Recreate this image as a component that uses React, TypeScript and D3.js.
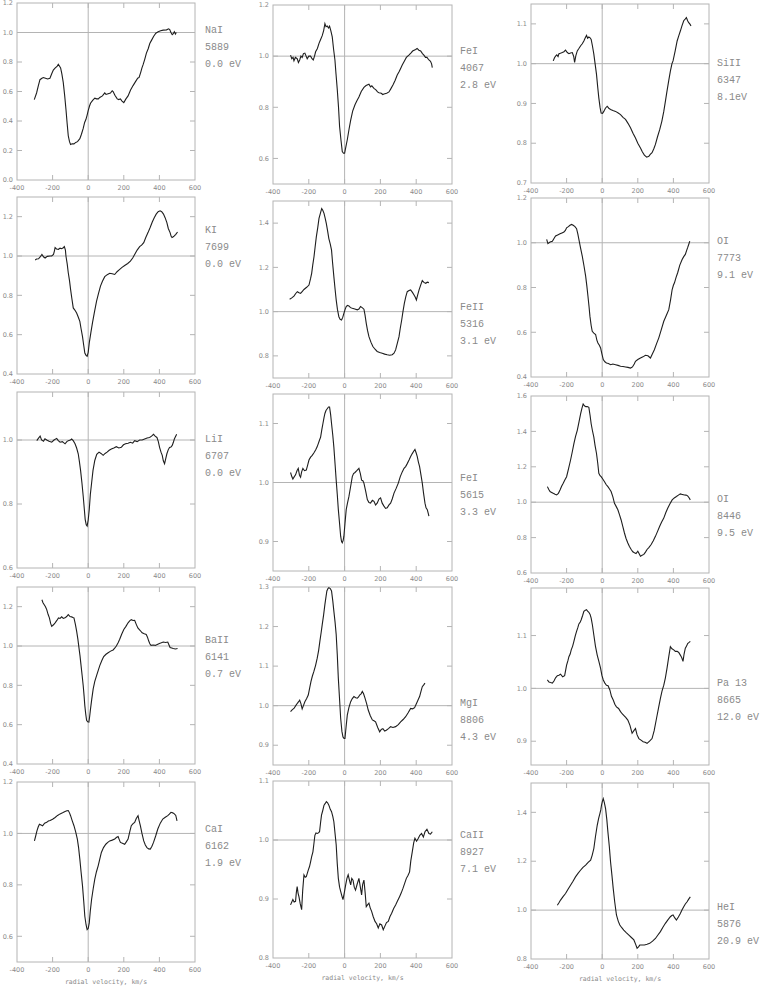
import React from "react";
import * as d3 from "d3";

type P = [number, number][];

const X_DOMAIN: [number, number] = [-400, 600];
const X_TICKS = [-400, -200, 0, 200, 400, 600];

const naI_5889: P = [[-303,0.545],[-290,0.59],[-280,0.64],[-271,0.68],[-260,0.69],[-252,0.695],[-240,0.69],[-228,0.685],[-215,0.69],[-205,0.72],[-196,0.745],[-185,0.76],[-175,0.77],[-168,0.785],[-160,0.77],[-155,0.76],[-148,0.72],[-140,0.66],[-132,0.57],[-125,0.48],[-118,0.38],[-112,0.30],[-105,0.26],[-99,0.24],[-90,0.245],[-80,0.245],[-70,0.255],[-60,0.26],[-47,0.28],[-38,0.31],[-28,0.35],[-20,0.39],[-13,0.41],[-6,0.44],[0,0.47],[7,0.50],[13,0.52],[25,0.54],[37,0.555],[47,0.55],[57,0.55],[65,0.56],[80,0.57],[93,0.59],[100,0.58],[112,0.585],[125,0.59],[135,0.605],[140,0.60],[150,0.575],[163,0.55],[172,0.545],[181,0.55],[190,0.535],[200,0.525],[212,0.55],[224,0.57],[238,0.61],[252,0.64],[265,0.665],[278,0.69],[286,0.695],[295,0.73],[302,0.76],[308,0.78],[318,0.82],[327,0.86],[337,0.89],[346,0.925],[357,0.95],[368,0.975],[380,0.995],[393,1.005],[407,1.012],[421,1.016],[440,1.018],[452,1.025],[458,1.02],[465,1.0],[472,0.985],[477,0.99],[484,1.005],[490,0.99],[495,1.0]];

const feI_4067: P = [[-302,1.004],[-295,0.99],[-288,0.995],[-283,0.982],[-275,0.995],[-265,0.99],[-258,0.975],[-251,0.985],[-244,1.0],[-237,0.995],[-230,1.01],[-222,1.012],[-215,1.0],[-209,0.99],[-200,1.0],[-190,1.0],[-182,0.99],[-175,0.985],[-168,1.0],[-162,1.017],[-152,1.03],[-143,1.05],[-134,1.065],[-125,1.08],[-117,1.1],[-110,1.127],[-104,1.115],[-97,1.118],[-90,1.11],[-84,1.117],[-77,1.1],[-69,1.075],[-62,1.03],[-54,0.985],[-48,0.93],[-41,0.87],[-34,0.8],[-28,0.725],[-20,0.67],[-13,0.627],[-6,0.62],[0,0.62],[7,0.645],[15,0.673],[25,0.715],[34,0.75],[45,0.785],[58,0.81],[68,0.825],[80,0.84],[93,0.862],[108,0.878],[120,0.885],[136,0.89],[145,0.88],[152,0.884],[164,0.874],[175,0.868],[184,0.86],[192,0.857],[205,0.855],[213,0.85],[220,0.852],[235,0.855],[248,0.86],[258,0.872],[270,0.887],[282,0.905],[294,0.926],[305,0.94],[315,0.955],[322,0.965],[335,0.982],[345,0.995],[359,1.004],[370,1.012],[380,1.02],[397,1.026],[405,1.03],[415,1.023],[425,1.02],[435,1.01],[443,1.004],[452,0.995],[460,0.995],[471,0.985],[480,0.98],[486,0.97],[490,0.955]];

const siII_6347: P = [[-275,1.007],[-268,1.015],[-262,1.019],[-255,1.022],[-248,1.018],[-243,1.025],[-235,1.026],[-224,1.028],[-215,1.03],[-206,1.034],[-196,1.028],[-187,1.025],[-178,1.027],[-168,1.028],[-160,1.018],[-155,1.003],[-148,1.02],[-140,1.032],[-131,1.038],[-121,1.045],[-112,1.05],[-103,1.057],[-95,1.065],[-88,1.071],[-82,1.064],[-75,1.067],[-68,1.065],[-62,1.061],[-55,1.045],[-47,1.024],[-40,1.0],[-32,0.973],[-25,0.94],[-19,0.914],[-12,0.89],[-6,0.876],[2,0.875],[9,0.88],[18,0.888],[28,0.893],[37,0.888],[47,0.885],[60,0.882],[75,0.88],[90,0.876],[103,0.872],[117,0.865],[131,0.86],[145,0.85],[159,0.839],[173,0.825],[187,0.813],[200,0.8],[215,0.788],[226,0.778],[237,0.77],[250,0.765],[262,0.767],[270,0.772],[280,0.776],[290,0.786],[299,0.797],[310,0.815],[323,0.834],[335,0.855],[346,0.88],[355,0.905],[364,0.931],[374,0.958],[383,0.981],[392,1.0],[398,1.007],[410,1.032],[421,1.057],[430,1.07],[439,1.082],[448,1.095],[458,1.108],[466,1.112],[473,1.116],[480,1.108],[486,1.103],[492,1.1],[499,1.095]];

const kI_7699: P = [[-298,0.98],[-290,0.985],[-279,0.986],[-270,0.995],[-260,1.008],[-250,0.995],[-242,0.99],[-230,0.998],[-214,1.0],[-205,1.0],[-195,1.008],[-190,1.025],[-186,1.043],[-178,1.036],[-167,1.034],[-158,1.04],[-149,1.037],[-140,1.042],[-134,1.048],[-128,1.03],[-125,1.0],[-118,0.96],[-112,0.915],[-105,0.875],[-99,0.83],[-92,0.785],[-84,0.736],[-75,0.725],[-65,0.71],[-56,0.69],[-47,0.668],[-40,0.63],[-32,0.59],[-25,0.545],[-19,0.507],[-12,0.495],[-6,0.49],[0,0.51],[6,0.558],[15,0.61],[24,0.66],[35,0.715],[47,0.77],[58,0.81],[69,0.847],[80,0.872],[93,0.895],[107,0.905],[121,0.912],[135,0.91],[149,0.906],[162,0.92],[177,0.932],[190,0.942],[205,0.952],[222,0.962],[237,0.974],[250,0.99],[261,1.008],[275,1.03],[289,1.048],[300,1.055],[312,1.068],[324,1.095],[336,1.119],[348,1.145],[360,1.173],[371,1.195],[382,1.213],[393,1.225],[404,1.23],[413,1.225],[423,1.213],[432,1.195],[442,1.17],[450,1.14],[460,1.119],[466,1.1],[471,1.094],[478,1.098],[484,1.102],[492,1.11],[502,1.122]];

const feII_5316: P = [[-307,1.056],[-295,1.062],[-283,1.07],[-273,1.082],[-264,1.09],[-255,1.085],[-246,1.083],[-236,1.092],[-227,1.1],[-212,1.11],[-199,1.12],[-190,1.15],[-184,1.173],[-178,1.21],[-171,1.248],[-165,1.29],[-158,1.338],[-150,1.38],[-143,1.421],[-135,1.445],[-128,1.466],[-122,1.458],[-115,1.444],[-108,1.42],[-102,1.398],[-95,1.365],[-88,1.33],[-80,1.305],[-73,1.278],[-67,1.22],[-60,1.158],[-53,1.1],[-47,1.053],[-40,1.01],[-32,0.977],[-25,0.965],[-17,0.962],[-10,0.975],[-4,0.992],[3,1.01],[9,1.023],[16,1.028],[24,1.026],[33,1.018],[43,1.015],[57,1.012],[71,1.008],[80,1.012],[89,1.023],[98,1.018],[108,1.011],[114,0.985],[121,0.947],[128,0.915],[136,0.887],[147,0.862],[158,0.842],[170,0.83],[182,0.82],[196,0.815],[210,0.812],[224,0.808],[238,0.805],[252,0.803],[266,0.805],[276,0.812],[285,0.827],[294,0.855],[304,0.887],[311,0.925],[319,0.962],[326,1.0],[334,1.038],[342,1.068],[350,1.09],[360,1.095],[369,1.098],[379,1.087],[388,1.075],[395,1.065],[401,1.053],[408,1.075],[416,1.098],[425,1.12],[434,1.14],[443,1.132],[453,1.128],[462,1.133],[471,1.131]];

const oI_7773: P = [[-312,1.015],[-305,0.996],[-293,1.003],[-280,1.007],[-270,1.02],[-262,1.03],[-250,1.035],[-237,1.04],[-226,1.044],[-215,1.048],[-207,1.055],[-200,1.067],[-190,1.072],[-181,1.078],[-172,1.082],[-163,1.078],[-153,1.072],[-144,1.063],[-137,1.04],[-131,1.015],[-122,0.978],[-112,0.94],[-102,0.895],[-93,0.851],[-86,0.805],[-80,0.761],[-74,0.715],[-69,0.672],[-62,0.63],[-56,0.604],[-47,0.596],[-37,0.59],[-30,0.565],[-24,0.552],[-16,0.542],[-9,0.53],[-2,0.505],[6,0.478],[15,0.468],[24,0.463],[35,0.46],[47,0.455],[60,0.458],[75,0.455],[89,0.452],[103,0.448],[117,0.447],[131,0.445],[145,0.443],[159,0.44],[170,0.445],[180,0.458],[187,0.47],[200,0.478],[215,0.485],[229,0.49],[243,0.497],[257,0.495],[271,0.485],[283,0.505],[293,0.522],[305,0.548],[318,0.575],[332,0.612],[346,0.649],[360,0.675],[374,0.701],[384,0.745],[393,0.791],[400,0.81],[406,0.821],[415,0.845],[424,0.866],[436,0.9],[449,0.925],[458,0.938],[467,0.948],[474,0.965],[480,0.978],[486,0.992],[492,1.007]];

const liI_6707: P = [[-289,0.998],[-280,1.005],[-270,1.012],[-262,1.0],[-251,0.996],[-243,1.004],[-233,1.0],[-220,0.996],[-205,0.993],[-192,1.0],[-177,1.005],[-168,0.998],[-158,0.993],[-145,0.995],[-130,0.988],[-120,0.995],[-112,0.998],[-100,1.0],[-93,1.003],[-84,0.998],[-74,0.988],[-65,0.975],[-56,0.957],[-50,0.935],[-43,0.906],[-35,0.865],[-28,0.824],[-22,0.785],[-17,0.752],[-11,0.735],[-6,0.731],[0,0.75],[6,0.783],[12,0.83],[19,0.865],[27,0.905],[37,0.936],[48,0.955],[61,0.962],[72,0.958],[84,0.952],[95,0.958],[106,0.962],[118,0.968],[130,0.972],[144,0.975],[158,0.979],[172,0.975],[186,0.977],[198,0.985],[210,0.988],[224,0.99],[237,0.993],[250,0.99],[261,0.998],[275,0.995],[289,1.0],[303,1.0],[317,1.003],[331,1.006],[345,1.008],[356,1.012],[367,1.018],[376,1.012],[386,1.008],[394,0.995],[401,0.977],[409,0.962],[416,0.952],[422,0.935],[429,0.926],[435,0.94],[442,0.957],[450,0.97],[457,0.977],[465,0.978],[472,0.983],[478,0.992],[484,1.003],[490,1.01],[497,1.018]];

const feI_5615: P = [[-302,1.017],[-295,1.01],[-289,1.006],[-281,1.01],[-274,1.013],[-266,1.02],[-259,1.024],[-252,1.012],[-246,1.009],[-240,1.018],[-233,1.024],[-224,1.02],[-214,1.021],[-206,1.03],[-199,1.038],[-190,1.043],[-181,1.046],[-172,1.05],[-162,1.055],[-154,1.06],[-147,1.066],[-140,1.072],[-134,1.077],[-127,1.09],[-121,1.1],[-115,1.11],[-110,1.117],[-104,1.122],[-97,1.125],[-90,1.128],[-84,1.128],[-78,1.115],[-73,1.1],[-66,1.08],[-60,1.06],[-53,1.03],[-47,1.004],[-41,0.98],[-35,0.954],[-28,0.93],[-22,0.909],[-17,0.9],[-13,0.898],[-8,0.902],[-4,0.909],[2,0.93],[9,0.954],[16,0.965],[24,0.976],[33,0.992],[43,1.01],[50,1.015],[58,1.017],[68,1.02],[80,1.024],[88,1.015],[95,1.004],[102,1.003],[108,0.999],[118,0.985],[127,0.971],[136,0.966],[145,0.965],[155,0.97],[164,0.968],[173,0.962],[182,0.965],[192,0.972],[201,0.974],[210,0.965],[220,0.96],[229,0.956],[238,0.957],[248,0.962],[257,0.965],[266,0.972],[276,0.982],[288,0.99],[300,0.999],[311,1.01],[322,1.018],[332,1.024],[341,1.027],[350,1.032],[360,1.038],[369,1.044],[378,1.049],[386,1.053],[393,1.056],[400,1.05],[406,1.044],[412,1.035],[419,1.027],[427,1.012],[434,0.999],[441,0.982],[449,0.965],[455,0.957],[462,0.954],[467,0.948],[471,0.943]];

const oI_8446: P = [[-308,1.088],[-300,1.072],[-293,1.06],[-284,1.055],[-275,1.05],[-265,1.045],[-256,1.041],[-246,1.05],[-237,1.069],[-228,1.09],[-219,1.107],[-210,1.125],[-200,1.144],[-189,1.19],[-178,1.237],[-168,1.285],[-159,1.331],[-150,1.37],[-140,1.406],[-130,1.455],[-121,1.5],[-114,1.53],[-107,1.555],[-100,1.545],[-92,1.54],[-84,1.54],[-75,1.536],[-68,1.49],[-62,1.443],[-55,1.405],[-47,1.368],[-40,1.32],[-32,1.275],[-25,1.22],[-19,1.163],[-12,1.15],[-6,1.144],[4,1.13],[13,1.116],[22,1.1],[32,1.088],[41,1.075],[50,1.06],[60,1.03],[69,0.994],[79,0.975],[88,0.957],[97,0.93],[106,0.901],[116,0.862],[125,0.826],[134,0.795],[144,0.77],[153,0.75],[163,0.733],[172,0.72],[181,0.714],[190,0.71],[200,0.723],[207,0.71],[215,0.695],[224,0.7],[234,0.705],[243,0.718],[252,0.733],[263,0.745],[275,0.761],[287,0.782],[299,0.807],[311,0.835],[323,0.864],[334,0.888],[346,0.91],[357,0.94],[368,0.966],[380,0.99],[393,1.013],[405,1.024],[417,1.032],[428,1.04],[439,1.047],[450,1.044],[462,1.041],[471,1.04],[480,1.036],[488,1.025],[495,1.013]];

const baII_6141: P = [[-260,1.235],[-254,1.22],[-247,1.21],[-240,1.2],[-233,1.185],[-225,1.16],[-218,1.143],[-211,1.115],[-205,1.1],[-195,1.108],[-186,1.118],[-176,1.13],[-167,1.143],[-158,1.14],[-149,1.148],[-140,1.14],[-130,1.143],[-121,1.15],[-112,1.16],[-102,1.15],[-93,1.148],[-86,1.145],[-80,1.143],[-72,1.11],[-65,1.076],[-58,1.035],[-52,0.992],[-46,0.95],[-41,0.908],[-34,0.85],[-28,0.798],[-23,0.745],[-19,0.697],[-14,0.655],[-9,0.622],[-3,0.615],[4,0.613],[8,0.64],[13,0.68],[20,0.73],[28,0.782],[37,0.82],[47,0.849],[56,0.875],[65,0.9],[76,0.925],[87,0.946],[100,0.958],[112,0.966],[126,0.974],[140,0.98],[150,0.99],[158,1.0],[168,1.017],[177,1.034],[188,1.06],[200,1.084],[212,1.1],[224,1.118],[233,1.128],[242,1.134],[252,1.13],[261,1.131],[270,1.11],[279,1.092],[291,1.08],[303,1.067],[315,1.062],[326,1.059],[333,1.045],[340,1.025],[347,1.01],[353,1.003],[365,1.005],[377,1.003],[388,1.008],[400,1.013],[411,1.016],[422,1.02],[435,1.018],[447,1.02],[454,1.005],[460,0.992],[469,0.99],[478,0.987],[490,0.985],[502,0.987]];

const mgI_8806: P = [[-302,0.985],[-292,0.99],[-283,0.993],[-273,1.0],[-264,1.006],[-257,1.01],[-251,1.014],[-244,1.005],[-237,0.992],[-230,1.0],[-222,1.01],[-212,1.018],[-203,1.027],[-195,1.045],[-188,1.061],[-180,1.075],[-172,1.086],[-162,1.102],[-153,1.12],[-145,1.14],[-138,1.163],[-131,1.185],[-125,1.205],[-117,1.23],[-110,1.256],[-104,1.275],[-99,1.29],[-93,1.296],[-88,1.298],[-80,1.296],[-73,1.29],[-66,1.265],[-60,1.239],[-53,1.21],[-47,1.18],[-41,1.13],[-35,1.069],[-28,1.015],[-22,0.968],[-15,0.935],[-9,0.921],[-3,0.917],[2,0.917],[8,0.945],[15,0.976],[24,0.995],[34,1.01],[43,1.018],[52,1.023],[62,1.02],[71,1.019],[78,1.022],[84,1.027],[92,1.03],[99,1.036],[106,1.03],[114,1.019],[123,1.005],[132,0.989],[143,0.975],[155,0.964],[164,0.962],[173,0.959],[185,0.945],[196,0.934],[205,0.94],[214,0.942],[224,0.936],[233,0.938],[245,0.942],[257,0.947],[270,0.945],[285,0.947],[300,0.952],[313,0.959],[327,0.965],[341,0.972],[355,0.982],[369,0.993],[380,0.992],[391,0.995],[399,1.003],[406,1.01],[412,1.016],[419,1.023],[426,1.035],[434,1.048],[441,1.052],[449,1.057]];

const pa13_8665: P = [[-308,1.016],[-299,1.012],[-290,1.011],[-280,1.01],[-271,1.014],[-262,1.02],[-252,1.024],[-243,1.025],[-234,1.027],[-222,1.022],[-211,1.024],[-205,1.035],[-200,1.044],[-193,1.052],[-187,1.06],[-180,1.065],[-174,1.073],[-166,1.08],[-159,1.089],[-151,1.1],[-144,1.108],[-137,1.115],[-131,1.122],[-124,1.125],[-118,1.13],[-110,1.138],[-103,1.146],[-95,1.148],[-88,1.149],[-82,1.146],[-75,1.144],[-68,1.14],[-62,1.133],[-55,1.12],[-47,1.101],[-38,1.08],[-28,1.063],[-18,1.05],[-9,1.038],[-2,1.025],[6,1.016],[15,1.01],[24,1.006],[33,1.005],[43,0.997],[52,0.985],[62,0.978],[71,0.97],[80,0.965],[92,0.962],[103,0.956],[112,0.952],[121,0.949],[132,0.945],[144,0.94],[156,0.93],[168,0.915],[178,0.92],[187,0.924],[196,0.912],[206,0.905],[218,0.902],[230,0.899],[241,0.898],[252,0.896],[266,0.9],[280,0.905],[292,0.92],[305,0.943],[316,0.962],[327,0.981],[336,0.995],[346,1.006],[355,1.02],[364,1.038],[374,1.06],[383,1.079],[392,1.075],[402,1.073],[411,1.07],[421,1.07],[430,1.068],[439,1.063],[447,1.058],[454,1.051],[460,1.065],[467,1.076],[474,1.08],[480,1.085],[488,1.087],[495,1.089]];

const caI_6162: P = [[-302,0.971],[-295,0.99],[-288,1.01],[-281,1.025],[-274,1.036],[-265,1.033],[-256,1.03],[-245,1.04],[-233,1.043],[-224,1.048],[-214,1.05],[-200,1.055],[-186,1.062],[-172,1.07],[-158,1.076],[-144,1.08],[-130,1.085],[-120,1.088],[-112,1.089],[-105,1.08],[-99,1.069],[-90,1.05],[-80,1.03],[-70,1.005],[-61,0.978],[-54,0.945],[-47,0.9],[-40,0.85],[-32,0.796],[-25,0.735],[-19,0.678],[-12,0.645],[-6,0.626],[0,0.63],[6,0.652],[12,0.7],[19,0.743],[28,0.785],[37,0.822],[46,0.85],[56,0.874],[65,0.9],[74,0.926],[86,0.945],[99,0.958],[110,0.965],[121,0.971],[135,0.974],[149,0.978],[158,0.984],[168,0.988],[175,0.975],[181,0.965],[192,0.962],[205,0.958],[215,0.968],[224,0.978],[233,1.005],[242,1.03],[252,1.038],[261,1.043],[270,1.058],[280,1.069],[286,1.05],[293,1.03],[302,1.0],[312,0.971],[321,0.955],[330,0.945],[340,0.94],[349,0.939],[358,0.95],[367,0.965],[379,0.99],[391,1.017],[405,1.04],[419,1.056],[433,1.063],[447,1.069],[456,1.075],[465,1.082],[475,1.08],[484,1.076],[492,1.07],[499,1.049]];

const caII_8927: P = [[-302,0.89],[-295,0.895],[-289,0.899],[-282,0.895],[-274,0.896],[-270,0.91],[-265,0.921],[-260,0.91],[-255,0.904],[-248,0.892],[-240,0.882],[-234,0.915],[-227,0.941],[-220,0.937],[-214,0.938],[-208,0.944],[-203,0.949],[-196,0.955],[-190,0.963],[-184,0.972],[-177,0.98],[-171,0.995],[-166,1.008],[-160,1.012],[-153,1.011],[-146,1.012],[-140,1.014],[-134,1.03],[-129,1.042],[-122,1.05],[-115,1.059],[-108,1.062],[-102,1.065],[-95,1.063],[-88,1.059],[-80,1.052],[-73,1.048],[-66,1.04],[-60,1.031],[-53,1.01],[-47,0.992],[-41,0.96],[-35,0.935],[-28,0.92],[-22,0.913],[-15,0.905],[-9,0.899],[-2,0.91],[6,0.924],[13,0.935],[20,0.941],[27,0.932],[34,0.924],[40,0.935],[47,0.932],[54,0.92],[61,0.915],[70,0.925],[80,0.935],[88,0.92],[95,0.907],[101,0.925],[108,0.932],[115,0.91],[121,0.887],[128,0.89],[136,0.893],[143,0.885],[151,0.879],[160,0.87],[170,0.862],[179,0.858],[188,0.851],[197,0.858],[207,0.856],[216,0.848],[225,0.854],[234,0.86],[244,0.862],[253,0.87],[263,0.876],[274,0.884],[285,0.89],[296,0.897],[307,0.904],[316,0.91],[326,0.918],[336,0.927],[345,0.935],[354,0.94],[363,0.946],[370,0.965],[378,0.98],[386,0.995],[393,1.003],[402,0.998],[412,1.003],[420,1.008],[430,1.011],[440,1.005],[449,1.014],[460,1.018],[471,1.011],[480,1.01],[490,1.014]];

const heI_5876: P = [[-252,1.02],[-243,1.03],[-234,1.041],[-220,1.055],[-206,1.068],[-192,1.085],[-178,1.102],[-164,1.118],[-150,1.136],[-136,1.15],[-122,1.163],[-108,1.175],[-93,1.184],[-79,1.195],[-65,1.204],[-56,1.225],[-47,1.252],[-38,1.3],[-28,1.347],[-20,1.375],[-13,1.395],[-8,1.41],[-4,1.429],[1,1.445],[6,1.456],[12,1.44],[19,1.415],[26,1.37],[32,1.32],[40,1.26],[47,1.197],[55,1.14],[62,1.088],[70,1.035],[80,0.98],[90,0.955],[99,0.939],[110,0.928],[121,0.918],[135,0.908],[150,0.898],[164,0.888],[178,0.878],[188,0.86],[196,0.844],[204,0.85],[211,0.857],[224,0.857],[237,0.857],[252,0.86],[267,0.864],[283,0.873],[299,0.884],[313,0.898],[327,0.912],[341,0.93],[355,0.946],[369,0.96],[383,0.973],[391,0.978],[398,0.98],[408,0.968],[417,0.959],[428,0.972],[439,0.986],[448,1.0],[458,1.014],[467,1.025],[477,1.034],[486,1.045],[495,1.054]];

// panels in reading order (row by row)
const SERIES: P[] = [naI_5889, feI_4067, siII_6347, kI_7699, feII_5316, oI_7773, liI_6707, feI_5615, oI_8446, baII_6141, mgI_8806, pa13_8665, caI_6162, caII_8927, heI_5876];
const LINE_NAMES = ["NaI", "FeI", "SiII", "KI", "FeII", "OI", "LiI", "FeI", "OI", "BaII", "MgI", "Pa 13", "CaI", "CaII", "HeI"];
const LINE_WAVES = ["5889", "4067", "6347", "7699", "5316", "7773", "6707", "5615", "8446", "6141", "8806", "8665", "6162", "8927", "5876"];
const LINE_ENERGIES = ["0.0 eV", "2.8 eV", "8.1eV", "0.0 eV", "3.1 eV", "9.1 eV", "0.0 eV", "3.3 eV", "9.5 eV", "0.7 eV", "4.3 eV", "12.0 eV", "1.9 eV", "7.1 eV", "20.9 eV"];
const Y_DOMAINS: [number, number][] = [[0, 1.2], [0.5, 1.2], [0.7, 1.15], [0.4, 1.3], [0.7, 1.5], [0.4, 1.2], [0.6, 1.15], [0.85, 1.15], [0.6, 1.6], [0.4, 1.3], [0.85, 1.3], [0.855, 1.19], [0.5, 1.2], [0.8, 1.1], [0.8, 1.52]];
const Y_TICKS: number[][] = [
  [0, 0.2, 0.4, 0.6, 0.8, 1.0, 1.2],
  [0.6, 0.8, 1.0, 1.2],
  [0.7, 0.8, 0.9, 1.0, 1.1],
  [0.4, 0.6, 0.8, 1.0, 1.2],
  [0.8, 1.0, 1.2, 1.4],
  [0.4, 0.6, 0.8, 1.0, 1.2],
  [0.6, 0.8, 1.0],
  [0.9, 1.0, 1.1],
  [0.6, 0.8, 1.0, 1.2, 1.4, 1.6],
  [0.4, 0.6, 0.8, 1.0, 1.2],
  [0.9, 1.0, 1.1, 1.2, 1.3],
  [0.9, 1.0, 1.1],
  [0.6, 0.8, 1.0, 1.2],
  [0.8, 0.9, 1.0, 1.1],
  [0.8, 1.0, 1.2, 1.4],
];

// layout (pixels)
const COL_X: [number, number][] = [[17, 195], [273, 452], [531, 709]];
const PANEL_Y: [number, number][] = [[3, 180], [5, 184], [4, 183], [197, 374], [201, 378], [198, 377], [392, 568], [394, 571], [396, 573], [587, 764], [587, 765], [588, 765], [782, 962], [781, 958], [783, 959]];
const LABEL_X = [205, 460, 717];
const LABEL_Y = [29, 50, 62, 229, 306, 240, 438, 477, 498, 639, 702, 682, 828, 834, 906];
const LABEL_STEP = 17;

const FRAME = "#b4b4b4";
const TEXT = "#8a8a8a";
const INK = "#1e1e1e";

function Panel({ i }: { i: number }) {
  const col = i % 3;
  const [x0, x1] = COL_X[col];
  const [y0, y1] = PANEL_Y[i];
  const x = d3.scaleLinear().domain(X_DOMAIN).range([x0, x1]);
  const y = d3.scaleLinear().domain(Y_DOMAINS[i]).range([y1, y0]);
  const line = d3.line<[number, number]>().x((d) => x(d[0])).y((d) => y(d[1]));
  const tl = 5;
  const yt = Y_TICKS[i].filter((t) => t > Y_DOMAINS[i][0] + 1e-6 && t < Y_DOMAINS[i][1] - 1e-6);
  const xt = X_TICKS.filter((t) => t > X_DOMAIN[0] && t < X_DOMAIN[1]);
  const isBottom = i >= 12;
  return (
    <g>
      <rect x={x0} y={y0} width={x1 - x0} height={y1 - y0} fill="none" stroke={FRAME} strokeWidth={1} />
      {xt.map((t) => (
        <g key={"xt" + t}>
          <line x1={x(t)} x2={x(t)} y1={y0} y2={y0 + tl} stroke={FRAME} />
          <line x1={x(t)} x2={x(t)} y1={y1} y2={y1 - tl} stroke={FRAME} />
        </g>
      ))}
      {yt.map((t) => (
        <g key={"yt" + t}>
          <line x1={x0} x2={x0 + tl} y1={y(t)} y2={y(t)} stroke={FRAME} />
          <line x1={x1} x2={x1 - tl} y1={y(t)} y2={y(t)} stroke={FRAME} />
        </g>
      ))}
      <line x1={x(0)} x2={x(0)} y1={y0} y2={y1} stroke={FRAME} strokeWidth={1} />
      <line x1={x0} x2={x1} y1={y(1)} y2={y(1)} stroke={FRAME} strokeWidth={1} />
      <path d={line(SERIES[i]) || ""} fill="none" stroke={INK} strokeWidth={1.1} strokeLinejoin="miter" />
      {Y_TICKS[i].map((t) => (
        <text key={"yl" + t} x={x0 - 4} y={y(t)} dy="0.35em" textAnchor="end" fontSize={6.5} fill={TEXT} fontFamily="DejaVu Sans">
          {t.toFixed(1)}
        </text>
      ))}
      {X_TICKS.map((t) => (
        <text key={"xl" + t} x={x(t)} y={y1 + 8} dy="0.35em" textAnchor="middle" fontSize={6.5} fill={TEXT} fontFamily="DejaVu Sans">
          {t}
        </text>
      ))}
      {[LINE_NAMES[i], LINE_WAVES[i], LINE_ENERGIES[i]].map((s, k) => (
        <text key={"lb" + k} x={LABEL_X[col]} y={LABEL_Y[i] + k * LABEL_STEP} dy="0.35em" fontSize={10} fill={TEXT} fontFamily="Liberation Mono">
          {s}
        </text>
      ))}
      {isBottom && (
        <text x={(x0 + x1) / 2} y={y1 + 20} dy="0.35em" textAnchor="middle" fontSize={6.5} fill={TEXT} fontFamily="DejaVu Sans Mono">
          radial velocity, km/s
        </text>
      )}
    </g>
  );
}

export default function App() {
  return (
    <svg width={766} height={988} style={{ position: "absolute", left: 0, top: 0, background: "#fff" }}>
      <rect width={766} height={988} fill="#fff" />
      {SERIES.map((_, i) => (
        <Panel key={i} i={i} />
      ))}
    </svg>
  );
}
